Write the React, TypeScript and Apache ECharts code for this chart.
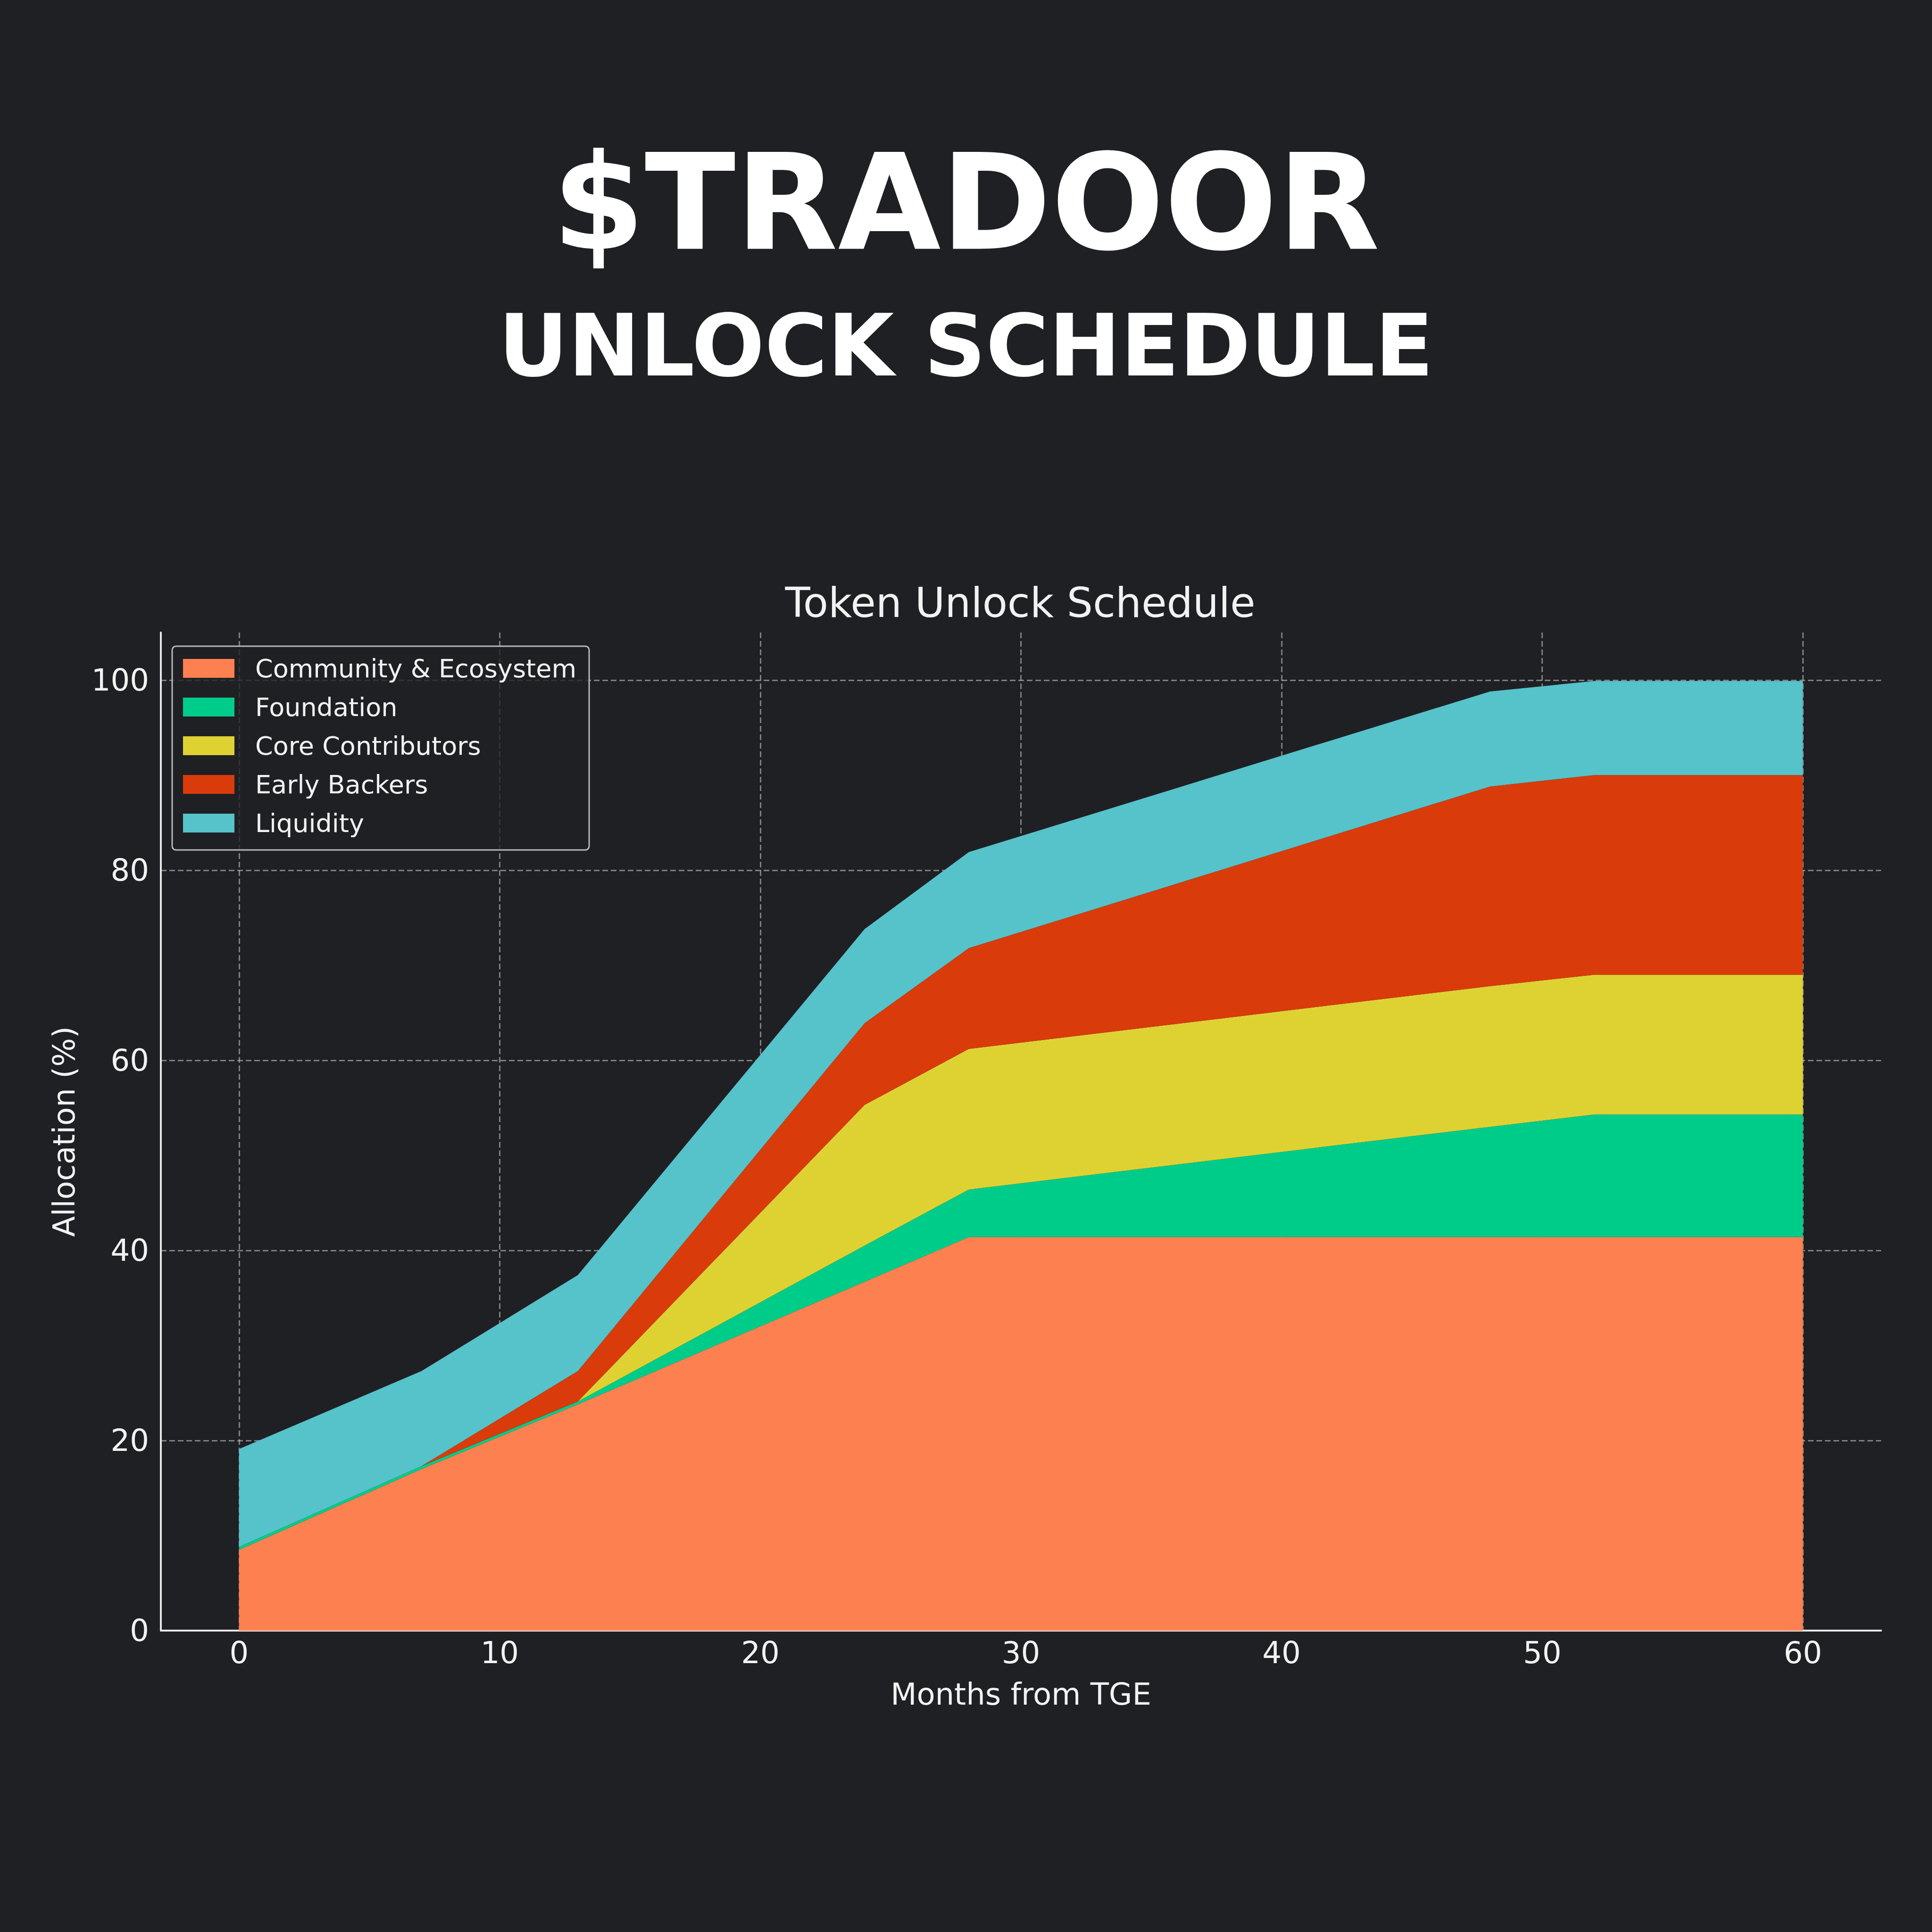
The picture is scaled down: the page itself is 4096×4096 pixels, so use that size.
import { useEffect, useRef } from 'react'
import * as echarts from 'echarts'

// breakpoints of the unlock curves (months from TGE)
const months = [0, 7, 13, 24, 28, 48, 52, 60]

// share of total supply unlocked per bucket (%)
const community = [8.5, 17.0, 23.8, 36.7, 41.4, 41.4, 41.4, 41.4]
const foundation = [0.3, 0.3, 0.3, 3.8, 5.0, 11.6, 12.9, 12.9]
const coreContributors = [0, 0, 0, 14.8, 14.8, 14.8, 14.7, 14.7]
const earlyBackers = [0, 0, 3.2, 8.6, 10.6, 21.0, 21.0, 21.0]
const liquidity = [10.3, 10.0, 10.1, 9.9, 10.1, 10.0, 9.9, 9.9]

const seriesNames = ['Community & Ecosystem', 'Foundation', 'Core Contributors', 'Early Backers', 'Liquidity']
const seriesColors = ['#FD8050', '#00CC8A', '#DED233', '#D93B0A', '#56C2CA']

const xTicks = [0, 10, 20, 30, 40, 50, 60]
const yTicks = [0, 20, 40, 60, 80, 100]

const BG = '#1f2024'
const FONT = 'DejaVu Sans'

export default function App() {
  const chartRef = useRef<HTMLDivElement>(null)

  useEffect(() => {
    if (!chartRef.current) return
    const chart = echarts.init(chartRef.current, null, { renderer: 'svg' })

    const values = [community, foundation, coreContributors, earlyBackers, liquidity]

    const option = {
      animation: false,
      backgroundColor: BG,
      title: [
        {
          text: '$TRADOOR',
          left: 2048,
          top: 289,
          padding: 0,
          textAlign: 'center',
          textStyle: { color: '#ffffff', fontSize: 282, fontWeight: 'bold', fontFamily: FONT }
        },
        {
          text: 'UNLOCK SCHEDULE',
          left: 2048,
          top: 642,
          padding: 0,
          textAlign: 'center',
          textStyle: { color: '#ffffff', fontSize: 182, fontWeight: 'bold', fontFamily: FONT }
        },
        {
          text: 'Token Unlock Schedule',
          left: 2163,
          top: 1234,
          padding: 0,
          textAlign: 'center',
          textStyle: { color: '#f2f2f2', fontSize: 87, fontWeight: 'normal', fontFamily: FONT }
        }
      ],
      legend: {
        orient: 'vertical',
        left: 365,
        top: 1370,
        padding: [20, 27, 30, 23],
        itemGap: 28,
        itemWidth: 109,
        itemHeight: 40,
        icon: 'rect',
        backgroundColor: 'rgba(31,32,36,0.8)',
        borderColor: '#b8b8b8',
        borderWidth: 3,
        borderRadius: 8,
        itemStyle: { borderWidth: 0 },
        textStyle: { color: '#f2f2f2', fontSize: 54, fontFamily: FONT, padding: [0, 0, 0, 39] },
        data: seriesNames
      },
      grid: {
        left: 341,
        right: 108,
        top: 1341,
        bottom: 639,
        containLabel: false
      },
      xAxis: {
        type: 'value',
        min: -3,
        max: 63,
        name: 'Months from TGE',
        nameLocation: 'middle',
        nameGap: 103,
        nameTextStyle: { color: '#f2f2f2', fontSize: 64, fontFamily: FONT },
        axisLine: { show: true, onZero: false, lineStyle: { color: '#e8e8e8', width: 4 } },
        axisTick: { show: false, customValues: xTicks },
        axisLabel: { customValues: xTicks, color: '#f2f2f2', fontSize: 64, fontFamily: FONT, margin: 15 },
        splitLine: {
          show: true,
          lineStyle: { color: 'rgba(190,190,190,0.6)', width: 3, type: [12, 6] }
        }
      },
      yAxis: {
        type: 'value',
        min: 0,
        max: 105,
        name: 'Allocation (%)',
        nameLocation: 'middle',
        nameGap: 173,
        nameRotate: 90,
        nameTextStyle: { color: '#f2f2f2', fontSize: 64, fontFamily: FONT },
        axisLine: { show: true, onZero: false, lineStyle: { color: '#e8e8e8', width: 4 } },
        axisTick: { show: false, customValues: yTicks },
        axisLabel: { customValues: yTicks, color: '#f2f2f2', fontSize: 64, fontFamily: FONT, margin: 25 },
        splitLine: {
          show: true,
          lineStyle: { color: 'rgba(190,190,190,0.6)', width: 3, type: [12, 6] }
        }
      },
      // value comes first in each pair so that the stack is built on the y values
      series: seriesNames.map((name, i) => ({
        name,
        type: 'line',
        stack: 'total',
        color: seriesColors[i],
        showSymbol: false,
        symbol: 'none',
        lineStyle: { width: 0 },
        areaStyle: { color: seriesColors[i], opacity: 1 },
        encode: { x: 1, y: 0 },
        data: months.map((m, j) => [values[i][j], m])
      }))
    }

    chart.setOption(option)

    return () => {
      chart.dispose()
    }
  }, [])

  return (
    <div
      ref={chartRef}
      style={{ position: 'fixed', left: 0, top: 0, width: 4096, height: 4096, background: BG }}
    />
  )
}
